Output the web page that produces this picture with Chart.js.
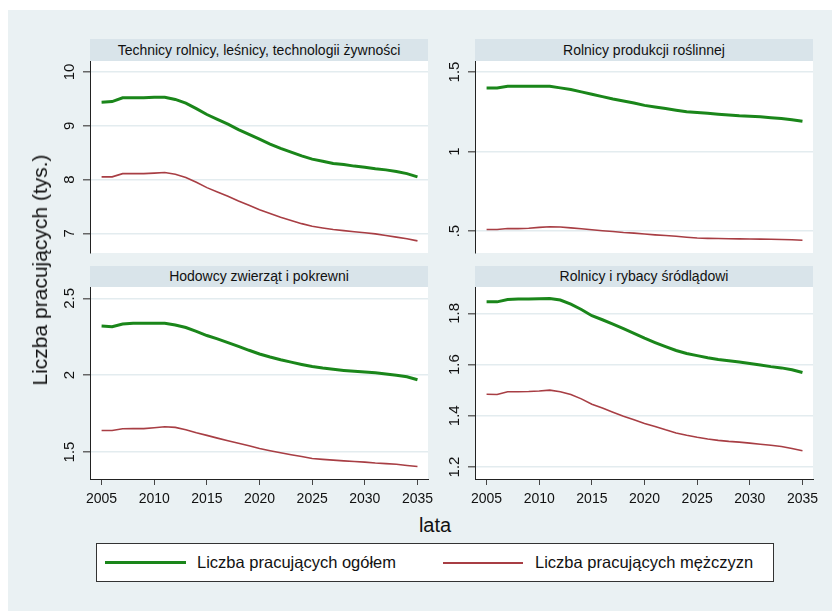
<!DOCTYPE html>
<html lang="pl">
<head>
<meta charset="utf-8">
<script src="https://cdn.jsdelivr.net/npm/chart.js@4"></script>
<style>
    body { margin: 0; background: #fff; font-family: "Liberation Sans", Arial, sans-serif; }
    #figure { position: relative; width: 832px; height: 611px; background: #fff; overflow: hidden; }
    #region { position: absolute; left: 8px; top: 10px; right: 0; bottom: 0; background: #eaf1f3; }
    canvas { position: absolute; }
    .strip { position: absolute; width: 338px; background: #d9e4ea; color: #111; font-size: 14px;
             text-align: center; box-sizing: border-box; }
    .ytitle { position: absolute; left: 40px; top: 270px; transform: translate(-50%, -50%) rotate(-90deg);
              font-size: 21px; color: #111; white-space: nowrap; }
    .xtitle { position: absolute; left: 435px; top: 525px; transform: translate(-50%, -50%);
              font-size: 20px; color: #111; }
    .legend { position: absolute; left: 96px; top: 543px; width: 678px; height: 39px; box-sizing: border-box;
              background: #fff; border: 1px solid #333; }
    .key { position: absolute; top: 18px; height: 0; }
    .ltext { position: absolute; top: 9px; font-size: 16.5px; color: #111; white-space: nowrap; }
</style>
</head>
<body>
<div id="figure">
    <div id="region"></div>
    <canvas id="p1" width="385" height="196" style="left:50px;top:61px"></canvas>
    <canvas id="p2" width="385" height="196" style="left:435px;top:61px"></canvas>
    <canvas id="p3" width="385" height="222" style="left:50px;top:287px"></canvas>
    <canvas id="p4" width="385" height="222" style="left:435px;top:287px"></canvas>
    <div class="strip" id="s1" style="left:90px;top:39px;height:22px;line-height:22px"></div>
    <div class="strip" id="s2" style="left:475px;top:39px;height:22px;line-height:22px"></div>
    <div class="strip" id="s3" style="left:90px;top:266px;height:21px;line-height:21px"></div>
    <div class="strip" id="s4" style="left:475px;top:266px;height:21px;line-height:21px"></div>
    <div class="ytitle">Liczba pracujących (tys.)</div>
    <div class="xtitle">lata</div>
    <div class="legend">
        <div class="key" style="left:8px;width:81px;border-top:3px solid #1a861a;margin-top:-1px"></div>
        <div class="ltext" style="left:100px">Liczba pracujących ogółem</div>
        <div class="key" style="left:346px;width:80px;border-top:2px solid #a83e44"></div>
        <div class="ltext" style="left:438px">Liczba pracujących mężczyzn</div>
    </div>
</div>

<script>
const years = [2005, 2006, 2007, 2008, 2009, 2010, 2011, 2012, 2013, 2014, 2015, 2016, 2017, 2018, 2019, 2020,
               2021, 2022, 2023, 2024, 2025, 2026, 2027, 2028, 2029, 2030, 2031, 2032, 2033, 2034, 2035];
const xTicks = [2005, 2010, 2015, 2020, 2025, 2030, 2035];

const titles = [
    'Technicy rolnicy, leśnicy, technologii żywności',
    'Rolnicy produkcji roślinnej',
    'Hodowcy zwierząt i pokrewni',
    'Rolnicy i rybacy śródlądowi'
];

// ogółem (total) and mężczyźni (men), thousands
const total1 = [9.44, 9.45, 9.52, 9.52, 9.52, 9.53, 9.53, 9.49, 9.42, 9.32, 9.21, 9.12, 9.03, 8.93, 8.84, 8.75,
                8.66, 8.58, 8.51, 8.44, 8.38, 8.34, 8.30, 8.28, 8.25, 8.23, 8.20, 8.18, 8.15, 8.11, 8.05];
const men1   = [8.05, 8.05, 8.11, 8.11, 8.11, 8.12, 8.13, 8.10, 8.04, 7.95, 7.85, 7.77, 7.69, 7.60, 7.52, 7.44,
                7.37, 7.30, 7.24, 7.18, 7.13, 7.10, 7.07, 7.05, 7.03, 7.01, 6.99, 6.96, 6.93, 6.90, 6.86];

const total2 = [1.40, 1.40, 1.41, 1.41, 1.41, 1.41, 1.41, 1.40, 1.39, 1.375, 1.36, 1.345, 1.33, 1.318, 1.305, 1.29,
                1.28, 1.27, 1.26, 1.25, 1.245, 1.24, 1.235, 1.23, 1.225, 1.222, 1.218, 1.212, 1.207, 1.20, 1.19];
const men2   = [0.51, 0.51, 0.516, 0.515, 0.518, 0.523, 0.527, 0.525, 0.52, 0.514, 0.508, 0.502, 0.497, 0.491, 0.487, 0.481,
                0.476, 0.472, 0.467, 0.461, 0.456, 0.454, 0.453, 0.452, 0.451, 0.450, 0.449, 0.448, 0.447, 0.445, 0.442];

const total3 = [2.32, 2.316, 2.333, 2.338, 2.338, 2.338, 2.338, 2.327, 2.31, 2.285, 2.258, 2.236, 2.212, 2.188, 2.162, 2.138,
                2.118, 2.10, 2.085, 2.07, 2.056, 2.046, 2.038, 2.031, 2.025, 2.02, 2.015, 2.008, 2.0, 1.99, 1.97];
const men3   = [1.64, 1.64, 1.651, 1.652, 1.652, 1.658, 1.664, 1.66, 1.645, 1.625, 1.608, 1.59, 1.573, 1.557, 1.54, 1.522,
                1.508, 1.495, 1.482, 1.47, 1.457, 1.452, 1.447, 1.442, 1.438, 1.434, 1.428, 1.424, 1.42, 1.412, 1.405];

const total4 = [1.845, 1.845, 1.854, 1.856, 1.856, 1.857, 1.858, 1.852, 1.836, 1.815, 1.791, 1.775, 1.758, 1.74, 1.722, 1.703,
                1.686, 1.67, 1.655, 1.643, 1.635, 1.627, 1.62, 1.615, 1.61, 1.604, 1.598, 1.592, 1.587, 1.58, 1.569];
const men4   = [1.484, 1.483, 1.494, 1.494, 1.495, 1.497, 1.50, 1.494, 1.483, 1.466, 1.445, 1.43, 1.414, 1.398, 1.384, 1.37,
                1.358, 1.345, 1.333, 1.324, 1.316, 1.309, 1.304, 1.30, 1.297, 1.293, 1.289, 1.285, 1.28, 1.272, 1.263];

const yTicks1 = [7, 8, 9, 10];         const yLabels1 = ['7', '8', '9', '10'];
const yTicks2 = [0.5, 1, 1.5];         const yLabels2 = ['.5', '1', '1.5'];
const yTicks3 = [1.5, 2, 2.5];         const yLabels3 = ['1.5', '2', '2.5'];
const yTicks4 = [1.2, 1.4, 1.6, 1.8];  const yLabels4 = ['1.2', '1.4', '1.6', '1.8'];

const GREEN = '#1a861a';
const RED = '#a83e44';
const GRID = '#e3ecef';
const FONT = '"Liberation Sans", Arial, sans-serif';

// white plot region behind the lines
const plotBg = {
    id: 'plotBg',
    beforeDraw(chart) {
        const { ctx, chartArea: a } = chart;
        ctx.save();
        ctx.fillStyle = '#fff';
        ctx.fillRect(a.left, a.top, a.right - a.left, a.bottom - a.top);
        ctx.restore();
    }
};

// y tick labels written upwards, Stata style
const vertLabels = {
    id: 'vertLabels',
    afterDraw(chart, args, opts) {
        const s = chart.scales.y;
        const ctx = chart.ctx;
        ctx.save();
        ctx.font = '15px ' + FONT;
        ctx.fillStyle = '#111';
        ctx.textAlign = 'center';
        ctx.textBaseline = 'middle';
        s.ticks.forEach((t, i) => {
            ctx.save();
            ctx.translate(s.right - 20, s.getPixelForValue(t.value));
            ctx.rotate(-Math.PI / 2);
            ctx.fillText(opts.labels[i], 0, 0);
            ctx.restore();
        });
        ctx.restore();
    }
};

const panel = (id, title, total, men, yMin, yMax, ticks, labels, showX) => {
    document.getElementById('s' + id.slice(1)).textContent = title;
    new Chart(document.getElementById(id), {
        type: 'line',
        data: {
            datasets: [{
                label: 'Liczba pracujących ogółem',
                data: years.map((yr, i) => ({ x: yr, y: total[i] })),
                borderColor: GREEN,
                borderWidth: 3,
                pointRadius: 0,
                tension: 0
            }, {
                label: 'Liczba pracujących mężczyzn',
                data: years.map((yr, i) => ({ x: yr, y: men[i] })),
                borderColor: RED,
                borderWidth: 1.6,
                pointRadius: 0,
                tension: 0
            }]
        },
        options: {
            responsive: false,
            animation: false,
            events: [],
            layout: { padding: { top: 0, right: 7, bottom: showX ? 0 : 4, left: 0 } },
            plugins: {
                legend: { display: false },
                tooltip: { enabled: false },
                vertLabels: { labels }
            },
            scales: {
                x: {
                    type: 'linear',
                    display: showX,
                    min: 2003.9,
                    max: 2036,
                    afterBuildTicks: s => { s.ticks = xTicks.map(v => ({ value: v })); },
                    afterFit: s => {
                        if (showX) s.height = 30;
                        s.paddingLeft = 0;
                        s.paddingRight = 0;
                    },
                    ticks: { font: { family: FONT, size: 14 }, color: '#111', padding: 6, maxRotation: 0,
                             callback: v => String(v) },
                    grid: { drawOnChartArea: false, tickLength: 6, tickColor: '#444' },
                    border: { color: '#222', width: 1 }
                },
                y: {
                    min: yMin,
                    max: yMax,
                    afterBuildTicks: s => { s.ticks = ticks.map(v => ({ value: v })); },
                    afterFit: s => {
                        s.width = 40;
                        s.paddingTop = 0;
                        s.paddingBottom = 0;
                    },
                    ticks: { display: false },
                    grid: { color: GRID, lineWidth: 1.5, tickLength: 7, tickColor: '#666' },
                    border: { color: '#222', width: 1 }
                }
            }
        },
        plugins: [plotBg, vertLabels]
    });
};

panel('p1', titles[0], total1, men1, 6.634, 10.205, yTicks1, yLabels1, false);
panel('p2', titles[1], total2, men2, 0.362, 1.569, yTicks2, yLabels2, false);
panel('p3', titles[2], total3, men3, 1.324, 2.574, yTicks3, yLabels3, true);
panel('p4', titles[3], total4, men4, 1.153, 1.903, yTicks4, yLabels4, true);
</script>
</body>
</html>
